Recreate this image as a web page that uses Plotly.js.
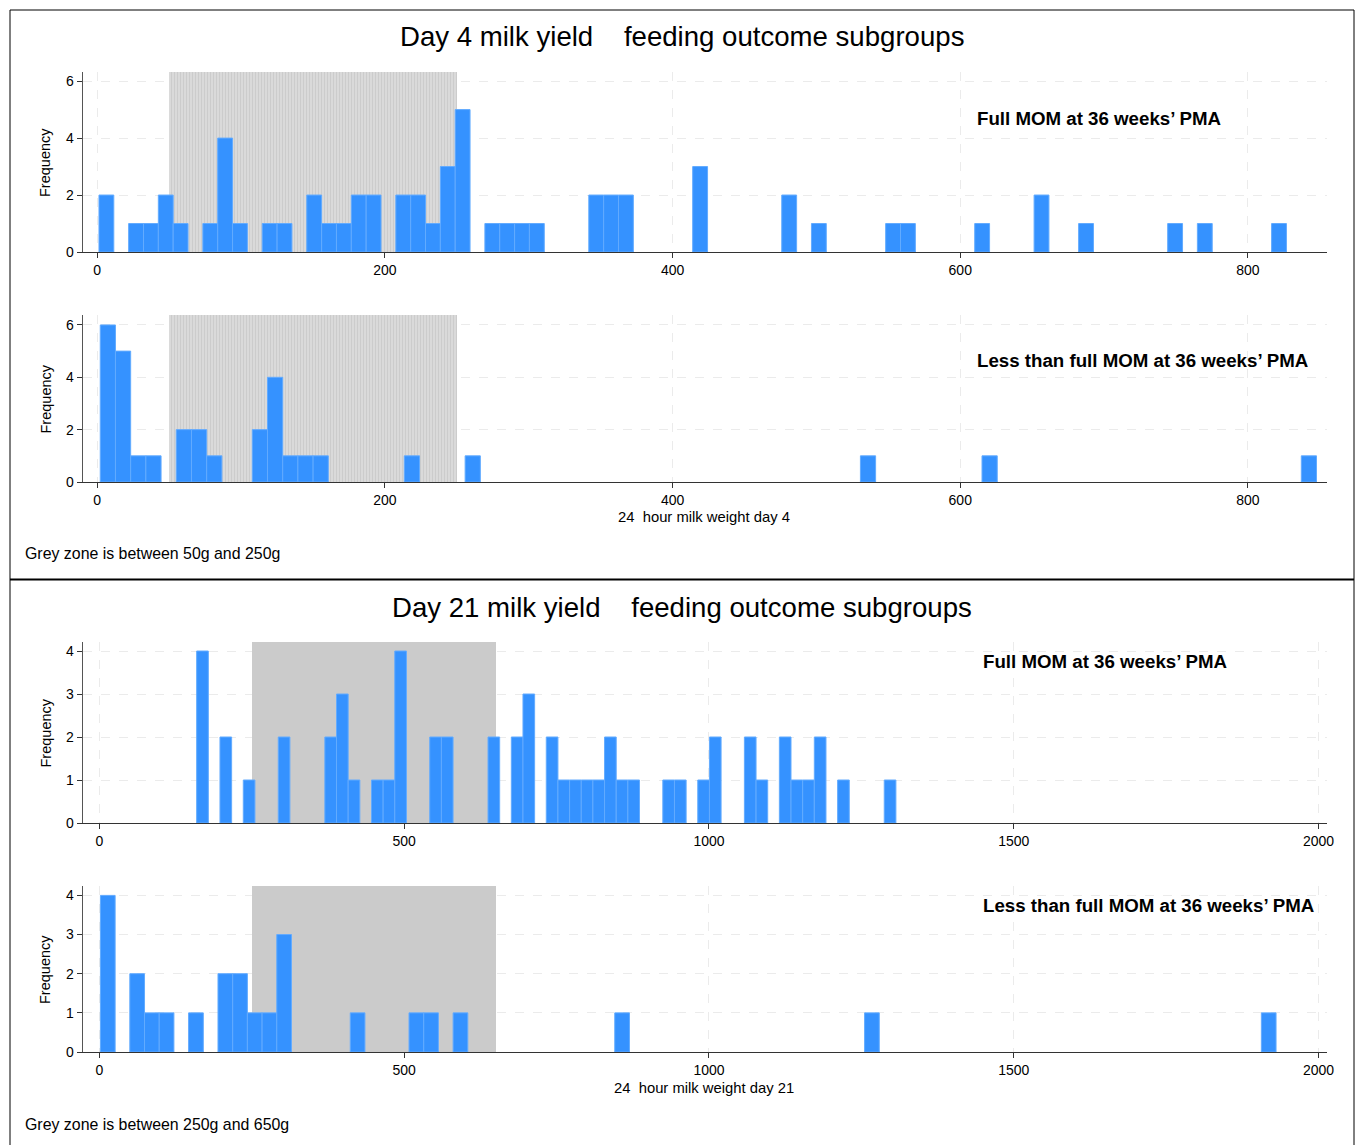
<!DOCTYPE html>
<html>
<head>
<meta charset="utf-8">
<script src="https://cdn.plot.ly/plotly-3.0.1.min.js"></script>
<style>html,body{margin:0;padding:0;background:#fff;}#chart{width:1356px;height:1145px;}</style>
</head>
<body>
<div id="chart"></div>
<script>
// ---------- DATA ----------
// Day 4, Full MOM at 36 weeks' PMA: histogram bin index and frequency
const d4FullBinStart = 1.2, d4FullBinWidth = 10.32;
const d4FullBins   = [0,2,3,4,5,7,8,9,11,12,14,15,16,17,18,20,21,22,23,24,26,27,28,29,33,34,35,40,46,48,53,54,59,63,66,72,74,79];
const d4FullCounts = [2,1,1,2,1,1,4,1,1,1,2,1,1,2,2,2,2,1,3,5,1,1,1,1,2,2,2,3,2,1,1,1,1,2,1,1,1,1];

// Day 4, Less than full MOM at 36 weeks' PMA
const d4LessBinStart = 2.1, d4LessBinWidth = 10.57;
const d4LessBins   = [0,1,2,3,5,6,7,10,11,12,13,14,20,24,50,58,79];
const d4LessCounts = [6,5,1,1,2,2,1,2,4,1,1,1,1,1,1,1,1];

// Day 21, Full MOM at 36 weeks' PMA
const d21FullBinStart = 159.5, d21FullBinWidth = 19.12;
const d21FullBins   = [0,2,4,7,11,12,13,15,16,17,20,21,25,27,28,30,31,32,33,34,35,36,37,40,41,43,44,47,48,50,51,52,53,55,59];
const d21FullCounts = [4,2,1,2,2,3,1,1,1,4,2,2,2,2,3,2,1,1,1,1,2,1,1,1,1,1,2,2,1,2,1,1,2,1,1];

// Day 21, Less than full MOM at 36 weeks' PMA
const d21LessBinStart = 1.6, d21LessBinWidth = 24.11;
const d21LessBins   = [0,2,3,4,6,8,9,10,11,12,17,21,22,24,35,52,79];
const d21LessCounts = [4,2,1,1,1,2,2,1,1,3,1,1,1,1,1,1,1];

// Grey zones (g)
const greyZoneDay4  = [50, 250];
const greyZoneDay21 = [250, 650];

// Tick labels
const xTicksDay4  = [0, 200, 400, 600, 800];
const xTicksDay21 = [0, 500, 1000, 1500, 2000];
const yTicksDay4  = [0, 2, 4, 6];
const yTicksDay21 = [0, 1, 2, 3, 4];

// Texts
const titleDay4  = 'Day 4 milk yield\u00a0\u00a0\u00a0\u00a0feeding outcome subgroups';
const titleDay21 = 'Day 21 milk yield\u00a0\u00a0\u00a0\u00a0feeding outcome subgroups';
const labelFull = 'Full MOM at 36 weeks\u2019 PMA';
const labelLess = 'Less than full MOM at 36 weeks\u2019 PMA';
const xTitleDay4  = '24\u00a0\u00a0hour milk weight day 4';
const xTitleDay21 = '24\u00a0\u00a0hour milk weight day 21';
const noteDay4  = 'Grey zone is between 50g and 250g';
const noteDay21 = 'Grey zone is between 250g and 650g';

// ---------- LAYOUT HELPERS ----------
const W = 1356, H = 1145;
const px = v => v / W;
const py = v => 1 - v / H;
const FONT = 'Liberation Sans, Arial, Helvetica, sans-serif';
const BLUE = '#3592ff';

const panels = [
  {bins: d4FullBins,  counts: d4FullCounts,  start: d4FullBinStart,  width: d4FullBinWidth,
   grey: greyZoneDay4,  pattern: true,  xr: [-9.9, 855],  yr: [0, 6.32], yTop: 72,  yBot: 252,  xt: xTicksDay4,  yt: yTicksDay4},
  {bins: d4LessBins,  counts: d4LessCounts,  start: d4LessBinStart,  width: d4LessBinWidth,
   grey: greyZoneDay4,  pattern: true,  xr: [-9.9, 855],  yr: [0, 6.38], yTop: 315, yBot: 482,  xt: xTicksDay4,  yt: yTicksDay4},
  {bins: d21FullBins, counts: d21FullCounts, start: d21FullBinStart, width: d21FullBinWidth,
   grey: greyZoneDay21, pattern: false, xr: [-27, 2014],  yr: [0, 4.21], yTop: 642, yBot: 823,  xt: xTicksDay21, yt: yTicksDay21},
  {bins: d21LessBins, counts: d21LessCounts, start: d21LessBinStart, width: d21LessBinWidth,
   grey: greyZoneDay21, pattern: false, xr: [-27, 2014],  yr: [0, 4.24], yTop: 886, yBot: 1052, xt: xTicksDay21, yt: yTicksDay21}
];

const traces = [];
const layout = {
  width: W, height: H,
  margin: {l: 0, r: 0, t: 0, b: 0},
  paper_bgcolor: '#ffffff', plot_bgcolor: 'rgba(0,0,0,0)',
  showlegend: false, barmode: 'overlay', bargap: 0,
  font: {family: FONT, color: '#000'},
  annotations: [], shapes: []
};

panels.forEach((p, i) => {
  const n = i === 0 ? '' : String(i + 1);
  const xa = 'x' + n, ya = 'y' + n;
  const greyMarker = p.pattern
    ? {color: '#d8d8d8', line: {width: 0},
       pattern: {shape: '|', fgcolor: '#bdbdbd', bgcolor: '#dadada', size: 3, solidity: 0.35, fillmode: 'overlay'}}
    : {color: '#cbcbcb', line: {width: 0}};
  traces.push({
    type: 'bar', xaxis: xa, yaxis: ya,
    x: [(p.grey[0] + p.grey[1]) / 2], y: [p.yr[1]], width: [p.grey[1] - p.grey[0]],
    marker: greyMarker, hoverinfo: 'skip'
  });
  traces.push({
    type: 'bar', xaxis: xa, yaxis: ya,
    x: p.bins.map(b => p.start + (b + 0.5) * p.width),
    y: p.counts,
    width: p.width,
    marker: {color: BLUE, line: {color: '#62abff', width: 1}}
  });
  layout['xaxis' + n] = {
    anchor: ya, domain: [px(83), px(1327)], range: p.xr,
    tickvals: p.xt, ticktext: p.xt.map(String),
    showgrid: true, gridcolor: '#ebebeb', griddash: 'dash', gridwidth: 1,
    zeroline: false, showline: true, linecolor: '#333', linewidth: 1.3,
    ticks: 'outside', ticklen: 5, tickcolor: '#333', tickwidth: 1,
    tickfont: {family: FONT, size: 14, color: '#000'}, fixedrange: true
  };
  layout['yaxis' + n] = {
    anchor: xa, domain: [py(p.yBot), py(p.yTop)], range: p.yr,
    tickvals: p.yt, ticktext: p.yt.map(String),
    showgrid: true, gridcolor: '#ebebeb', griddash: 'dash', gridwidth: 1,
    zeroline: false, showline: true, linecolor: '#555', linewidth: 1.3,
    ticks: 'outside', ticklen: 5, tickcolor: '#333', tickwidth: 1,
    tickfont: {family: FONT, size: 14, color: '#000'}, fixedrange: true
  };
  layout.annotations.push({
    xref: 'paper', yref: 'paper', x: px(45), y: py((p.yTop + p.yBot) / 2 + 1),
    text: 'Frequency', textangle: -90, showarrow: false,
    xanchor: 'center', yanchor: 'middle', font: {family: FONT, size: 14.5, color: '#000'}
  });
});

[[labelFull, 977, 119], [labelLess, 977, 360], [labelFull, 983, 661], [labelLess, 983, 905]].forEach(([t, x, y]) => {
  layout.annotations.push({xref: 'paper', yref: 'paper', x: px(x - 2), y: py(y), text: '<b>' + t + '</b>',
    showarrow: false, xanchor: 'left', yanchor: 'middle', font: {family: FONT, size: 18.7, color: '#000'}});
});
[[titleDay4, 36], [titleDay21, 607]].forEach(([t, y]) => {
  layout.annotations.push({xref: 'paper', yref: 'paper', x: px(682), y: py(y), text: t,
    showarrow: false, xanchor: 'center', yanchor: 'middle', font: {family: FONT, size: 27.6, color: '#000'}});
});
[[xTitleDay4, 517], [xTitleDay21, 1088]].forEach(([t, y]) => {
  layout.annotations.push({xref: 'paper', yref: 'paper', x: px(704), y: py(y), text: t,
    showarrow: false, xanchor: 'center', yanchor: 'middle', font: {family: FONT, size: 14.8, color: '#000'}});
});
[[noteDay4, 553], [noteDay21, 1124]].forEach(([t, y]) => {
  layout.annotations.push({xref: 'paper', yref: 'paper', x: px(23), y: py(y), text: t,
    showarrow: false, xanchor: 'left', yanchor: 'middle', font: {family: FONT, size: 15.9, color: '#000'}});
});
layout.shapes.push(
  {type: 'line', xref: 'paper', yref: 'paper', x0: px(10), x1: px(1354), y0: py(10), y1: py(10), line: {color: '#000', width: 1}},
  {type: 'line', xref: 'paper', yref: 'paper', x0: px(10), x1: px(10), y0: py(10), y1: py(1146), line: {color: '#000', width: 1}},
  {type: 'line', xref: 'paper', yref: 'paper', x0: px(1354), x1: px(1354), y0: py(10), y1: py(1146), line: {color: '#000', width: 1}},
  {type: 'line', xref: 'paper', yref: 'paper', x0: px(10), x1: px(1354), y0: py(579.5), y1: py(579.5), line: {color: '#000', width: 2}}
);

Plotly.newPlot('chart', traces, layout, {staticPlot: true, displayModeBar: false});
</script>
</body>
</html>
